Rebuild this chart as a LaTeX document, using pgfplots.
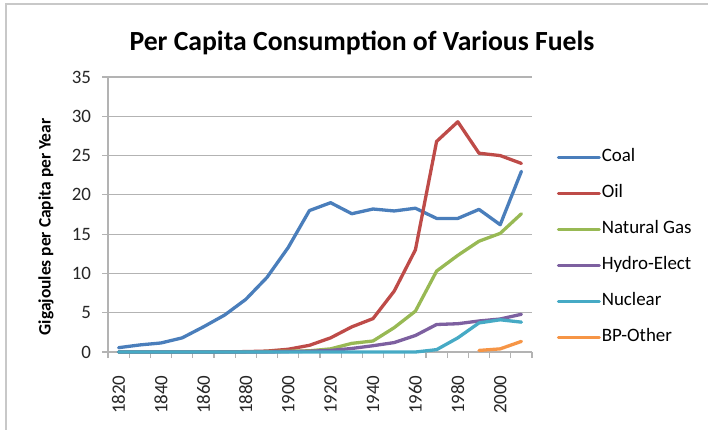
\documentclass[border=0pt]{standalone}
\usepackage{pgfplots}
\pgfplotsset{compat=1.18}
\usepackage{fontspec}
\setmainfont{Carlito}
\definecolor{coal}{HTML}{4A7EBB}
\definecolor{oil}{HTML}{BE4B48}
\definecolor{gas}{HTML}{98B954}
\definecolor{hydro}{HTML}{7D60A0}
\definecolor{nuclear}{HTML}{46AAC5}
\definecolor{other}{HTML}{F69546}
\definecolor{gridgray}{HTML}{B3B3B3}
\definecolor{framegray}{HTML}{C8C8C8}
\begin{document}
\begin{tikzpicture}[x=1bp,y=1bp]
\useasboundingbox (0,0) rectangle (708,429);
\draw[color=framegray, line width=1.5bp] (6,425) rectangle (740,-20);
\begin{axis}[
  at={(108bp,77bp)}, anchor=south west,
  scale only axis, width=424bp, height=275bp,
  xmin=-0.5, xmax=19.5, ymin=0, ymax=35,
  ytick={0,5,...,35},
  xtick={0,2,...,18},
  xticklabels={1820,1840,1860,1880,1900,1920,1940,1960,1980,2000},
  minor xtick={-0.5,0.5,...,19.5},
  axis lines=left,
  axis line style={-, draw=gridgray, line width=1.2bp},
  ymajorgrids, grid style={draw=gridgray, line width=1.2bp},
  tick align=outside,
  major tick length=6bp, minor tick length=6bp,
  tick style={draw=gridgray, line width=1.2bp},
  every major x tick/.append style={draw=none},
  /pgf/number format/assume math mode=true,
  tick label style={font=\fontsize{19}{21}\selectfont, text=black!85},
  xticklabel style={rotate=90, anchor=east, xshift=-14bp},
  yticklabel style={anchor=east, xshift=-7.5bp},
  ylabel={Gigajoules per Capita per Year},
  ylabel style={font=\bfseries\fontsize{17.5}{19}\selectfont, at={(axis description cs:-0.146,0.455)}, anchor=center, rotate=0},
  title={Per Capita Consumption of Various Fuels},
  title style={font=\bfseries\fontsize{27.8}{30}\selectfont, at={(axis description cs:0.599,1.101)}, anchor=center},
  legend style={draw=none, fill=none, at={(axis description cs:1.058,0.745)}, anchor=north west,
    font=\fontsize{19}{21}\selectfont, row sep=16bp, inner sep=0pt,
    nodes={inner sep=1bp, text height=13bp, text depth=5bp}},
  legend cell align=left,
  legend image code/.code={\draw[#1, line width=3bp] (0bp,0bp) -- (41bp,0bp);},
  every axis plot/.append style={line width=3.3bp, line join=round, line cap=round},
  clip=false,
]
\addplot[coal] coordinates {(0,0.55)(1,0.9)(2,1.15)(3,1.8)(4,3.2)(5,4.7)(6,6.7)(7,9.5)(8,13.3)(9,18.0)(10,19.0)(11,17.6)(12,18.2)(13,17.95)(14,18.3)(15,17.0)(16,17.0)(17,18.15)(18,16.2)(19,23.0)};
\addlegendentry{Coal}
\addplot[oil] coordinates {(0,0)(1,0)(2,0)(3,0)(4,0)(5,0.02)(6,0.05)(7,0.12)(8,0.35)(9,0.85)(10,1.8)(11,3.2)(12,4.25)(13,7.75)(14,13.0)(15,26.8)(16,29.3)(17,25.3)(18,25.0)(19,24.0)};
\addlegendentry{Oil}
\addplot[gas] coordinates {(0,0)(1,0)(2,0)(3,0)(4,0)(5,0)(6,0.02)(7,0.05)(8,0.1)(9,0.15)(10,0.4)(11,1.1)(12,1.4)(13,3.1)(14,5.2)(15,10.3)(16,12.3)(17,14.1)(18,15.1)(19,17.6)};
\addlegendentry{Natural Gas}
\addplot[hydro] coordinates {(0,0)(1,0)(2,0)(3,0)(4,0)(5,0)(6,0)(7,0)(8,0.05)(9,0.1)(10,0.2)(11,0.45)(12,0.8)(13,1.2)(14,2.1)(15,3.5)(16,3.6)(17,3.95)(18,4.2)(19,4.8)};
\addlegendentry{Hydro-Elect}
\addplot[nuclear] coordinates {(0,0)(1,0)(2,0)(3,0)(4,0)(5,0)(6,0)(7,0)(8,0)(9,0)(10,0)(11,0)(12,0)(13,0)(14,0)(15,0.3)(16,1.8)(17,3.7)(18,4.1)(19,3.8)};
\addlegendentry{Nuclear}
\addplot[other] coordinates {(17,0.2)(18,0.4)(19,1.35)};
\addlegendentry{BP-Other}
\end{axis}
\end{tikzpicture}
\end{document}
